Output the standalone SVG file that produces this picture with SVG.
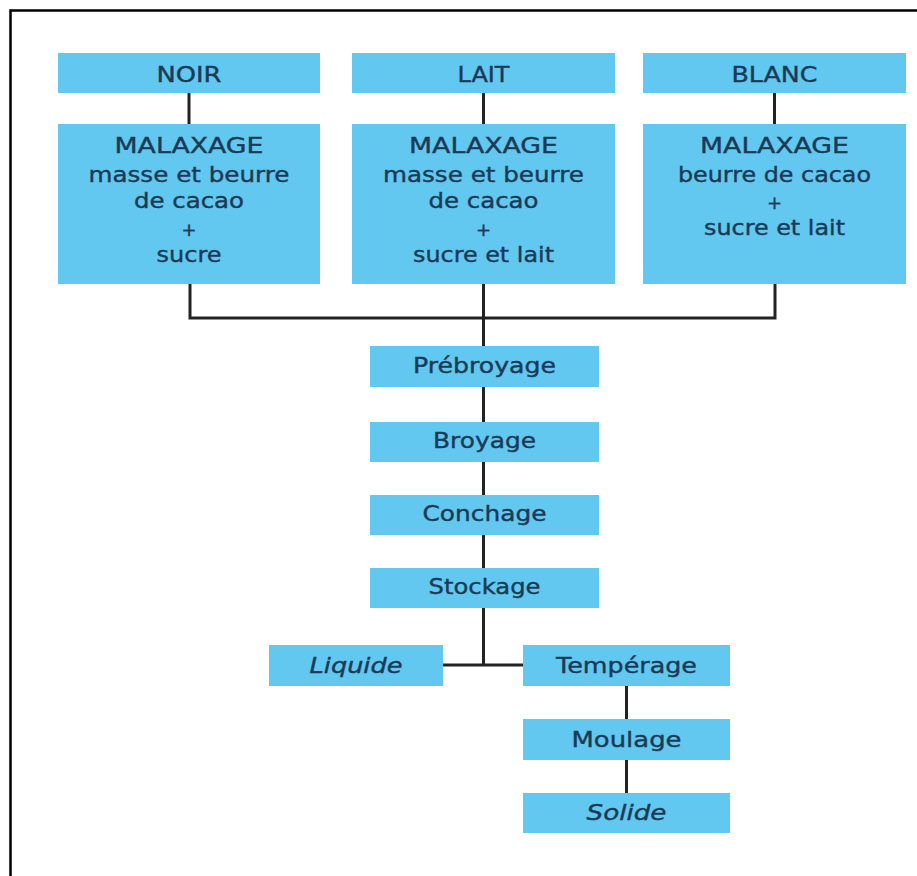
<svg xmlns="http://www.w3.org/2000/svg" width="917" height="876" viewBox="0 0 917 876">
<style>
.b{fill:#62C8F0}
.t{font-family:"DejaVu Sans",sans-serif;font-size:22px;fill:#1B3A55;stroke:#1B3A55;stroke-width:0.4;text-anchor:middle}
.i{font-style:italic}
.p{font-size:18px}
.c{fill:none;stroke:#222;stroke-width:3}
</style>
<rect width="917" height="876" fill="#fff"/>
<path d="M10.5,876 V10.5 H917" fill="none" stroke="#000" stroke-width="2.5"/>
<g id="connectors" class="c">
<path d="M189,93 V124"/>
<path d="M483.5,93 V124"/>
<path d="M774.5,93 V124"/>
<path d="M190,284 V318 H775 V284"/>
<path d="M483.5,284 V346"/>
<path d="M483.5,387 V422"/>
<path d="M483.5,462 V495"/>
<path d="M483.5,535 V568"/>
<path d="M483.5,608 V665"/>
<path d="M443,665 H523"/>
<path d="M626.5,686 V719"/>
<path d="M626.5,760 V793"/>
</g>
<g id="noir"><rect class="b" x="58" y="53" width="262" height="40"/><text class="t" x="189" y="82" textLength="65" lengthAdjust="spacingAndGlyphs">NOIR</text></g>
<g id="lait"><rect class="b" x="352" y="53" width="263" height="40"/><text class="t" x="483.5" y="82" textLength="52" lengthAdjust="spacingAndGlyphs">LAIT</text></g>
<g id="blanc"><rect class="b" x="643" y="53" width="263" height="40"/><text class="t" x="774.5" y="82" textLength="86" lengthAdjust="spacingAndGlyphs">BLANC</text></g>
<g id="malaxage-noir"><rect class="b" x="58" y="124" width="262" height="160"/>
<text class="t" x="189" y="153" textLength="149" lengthAdjust="spacingAndGlyphs">MALAXAGE</text>
<text class="t" x="189" y="182" textLength="201" lengthAdjust="spacingAndGlyphs">masse et beurre</text>
<text class="t" x="189" y="208" textLength="110" lengthAdjust="spacingAndGlyphs">de cacao</text>
<text class="t p" x="189" y="236">+</text>
<text class="t" x="189" y="262" textLength="65" lengthAdjust="spacingAndGlyphs">sucre</text></g>
<g id="malaxage-lait"><rect class="b" x="352" y="124" width="263" height="160"/>
<text class="t" x="483.5" y="153" textLength="149" lengthAdjust="spacingAndGlyphs">MALAXAGE</text>
<text class="t" x="483.5" y="182" textLength="201" lengthAdjust="spacingAndGlyphs">masse et beurre</text>
<text class="t" x="483.5" y="208" textLength="110" lengthAdjust="spacingAndGlyphs">de cacao</text>
<text class="t p" x="483.5" y="236">+</text>
<text class="t" x="483.5" y="262" textLength="141" lengthAdjust="spacingAndGlyphs">sucre et lait</text></g>
<g id="malaxage-blanc"><rect class="b" x="643" y="124" width="263" height="160"/>
<text class="t" x="774.5" y="153" textLength="149" lengthAdjust="spacingAndGlyphs">MALAXAGE</text>
<text class="t" x="774.5" y="182" textLength="193" lengthAdjust="spacingAndGlyphs">beurre de cacao</text>
<text class="t p" x="774.5" y="209">+</text>
<text class="t" x="774.5" y="235" textLength="141" lengthAdjust="spacingAndGlyphs">sucre et lait</text></g>
<g id="prebroyage"><rect class="b" x="370" y="346" width="229" height="41"/><text class="t" x="484.5" y="373" textLength="143" lengthAdjust="spacingAndGlyphs">Prébroyage</text></g>
<g id="broyage"><rect class="b" x="370" y="422" width="229" height="40"/><text class="t" x="484.5" y="448" textLength="103" lengthAdjust="spacingAndGlyphs">Broyage</text></g>
<g id="conchage"><rect class="b" x="370" y="495" width="229" height="40"/><text class="t" x="484.5" y="521" textLength="124" lengthAdjust="spacingAndGlyphs">Conchage</text></g>
<g id="stockage"><rect class="b" x="370" y="568" width="229" height="40"/><text class="t" x="484.5" y="594" textLength="112" lengthAdjust="spacingAndGlyphs">Stockage</text></g>
<g id="liquide"><rect class="b" x="269" y="645" width="174" height="41"/><text class="t i" x="356" y="673" textLength="93" lengthAdjust="spacingAndGlyphs">Liquide</text></g>
<g id="temperage"><rect class="b" x="523" y="645" width="207" height="41"/><text class="t" x="626.5" y="673" textLength="141" lengthAdjust="spacingAndGlyphs">Tempérage</text></g>
<g id="moulage"><rect class="b" x="523" y="719" width="207" height="41"/><text class="t" x="626.5" y="747" textLength="110" lengthAdjust="spacingAndGlyphs">Moulage</text></g>
<g id="solide"><rect class="b" x="523" y="793" width="207" height="40"/><text class="t i" x="626.5" y="820" textLength="80" lengthAdjust="spacingAndGlyphs">Solide</text></g>
</svg>
